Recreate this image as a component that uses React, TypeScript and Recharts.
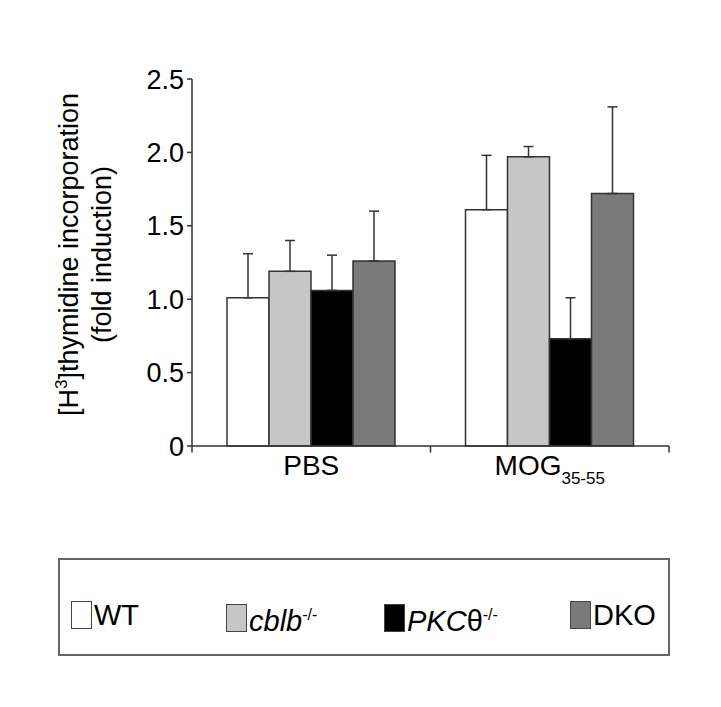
import { BarChart, Bar, XAxis, YAxis, ErrorBar, Legend, ReferenceLine } from "recharts";

const groups = ["PBS", "MOG"];
const wt = [1.01, 1.61];
const wtErr = [0.3, 0.37];
const cblb = [1.19, 1.97];
const cblbErr = [0.21, 0.07];
const pkc = [1.06, 0.73];
const pkcErr = [0.24, 0.28];
const dko = [1.26, 1.72];
const dkoErr = [0.34, 0.59];
const yTicks = [0, 0.5, 1, 1.5, 2, 2.5];

const series = [
  { key: "wt", name: "WT", sup: "", italic: false, color: "#ffffff", values: wt, errs: wtErr },
  { key: "cblb", name: "cblb", sup: "-/-", italic: true, color: "#c6c6c6", values: cblb, errs: cblbErr },
  { key: "pkc", name: "PKC", sup: "-/-", italic: true, color: "#000000", values: pkc, errs: pkcErr },
  { key: "dko", name: "DKO", sup: "", italic: false, color: "#7a7a7a", values: dko, errs: dkoErr },
];

const data = groups.map((g, i) => {
  const row: any = { group: g };
  series.forEach((s) => {
    row[s.key] = s.values[i];
    row[s.key + "Err"] = [0, s.errs[i]];
  });
  return row;
});

const font = "'Liberation Sans', Arial, sans-serif";

const XTick = (props: any) => {
  const { x, y, payload } = props;
  if (payload.value === "MOG") {
    return (
      <text x={x} y={y + 21} textAnchor="middle" fontFamily={font} fontSize={28} fill="#000">
        MOG
        <tspan fontSize={17} dy={9}>35-55</tspan>
      </text>
    );
  }
  return (
    <text x={x} y={y + 21} textAnchor="middle" fontFamily={font} fontSize={28} fill="#000">
      {payload.value}
    </text>
  );
};

const YLabel = (props: any) => {
  const vb = props.viewBox;
  const cx = 78;
  const cy = vb.y + vb.height / 2 - 8;
  return (
    <text
      transform={`translate(${cx},${cy}) rotate(-90)`}
      textAnchor="middle"
      fontFamily={font}
      fontSize={27}
      fill="#000"
    >
      <tspan x={0} dy={0}>
        [H<tspan fontSize={17} dy={-11}>3</tspan>
        <tspan dy={11}>]thymidine incorporation</tspan>
      </tspan>
      <tspan x={0} dy={33}>(fold induction)</tspan>
    </text>
  );
};

const renderLegend = () => (
  <div
    style={{
      width: 612,
      height: 98,
      boxSizing: "border-box",
      border: "2px solid #666",
      position: "relative",
      fontFamily: font,
      fontSize: 29,
      background: "#fff",
    }}
  >
    {series.map((s, i) => (
      <div
        key={s.key}
        style={{
          position: "absolute",
          left: [11, 166, 324, 510][i],
          top: 40,
          display: "flex",
          alignItems: "center",
          lineHeight: "30px",
        }}
      >
        <span
          style={{
            display: "inline-block",
            width: 21,
            height: 28,
            boxSizing: "border-box",
            border: "1.5px solid #444",
            background: s.color,
            marginRight: 2,
          }}
        />
        <span style={{ fontStyle: s.italic ? "italic" : "normal" }}>
          {s.name}
          {s.key === "pkc" && <span style={{ fontStyle: "normal" }}>θ</span>}
          {s.sup && <sup style={{ fontSize: 16, verticalAlign: "11px", fontStyle: "normal" }}>{s.sup}</sup>}
        </span>
      </div>
    ))}
  </div>
);

export default function App() {
  return (
    <div style={{ position: "absolute", left: 0, top: 0, background: "#fff" }}>
      <BarChart
        width={721}
        height={707}
        data={data}
        margin={{ top: 79, right: 52, bottom: 123, left: 132 }}
        barCategoryGap={35}
        barGap={0}
      >
        <XAxis
          xAxisId="top"
          orientation="top"
          dataKey="group"
          height={0}
          tick={false}
          tickLine={false}
          axisLine={{ stroke: "#666", strokeWidth: 1.5 }}
        />
        <XAxis
          dataKey="group"
          height={40}
          tickLine={false}
          tick={<XTick />}
          axisLine={{ stroke: "#333", strokeWidth: 1.5 }}
        />
        <YAxis
          domain={[0, 2.5]}
          ticks={yTicks}
          width={60}
          interval={0}
          tickSize={5}
          tickMargin={3}
          tickFormatter={(v: number) => (v === 0 ? "0" : v.toFixed(1))}
          tick={{ fontFamily: font, fontSize: 27, fill: "#000" }}
          tickLine={{ stroke: "#333", strokeWidth: 1.5 }}
          axisLine={{ stroke: "#333", strokeWidth: 1.5 }}
          label={<YLabel />}
        />
        <YAxis
          yAxisId="right"
          orientation="right"
          domain={[0, 2.5]}
          width={0}
          tick={false}
          tickLine={false}
          axisLine={{ stroke: "#666", strokeWidth: 1.5 }}
        />
        <Legend
          content={renderLegend}
          wrapperStyle={{ left: 58, top: 558, width: 612, height: 98 }}
        />
        {[
          { g: "PBS", pos: "start" },
          { g: "MOG", pos: "start" },
          { g: "MOG", pos: "end" },
        ].map((t, i) => (
          <ReferenceLine
            key={i}
            segment={[
              { x: t.g, y: 0 },
              { x: t.g, y: -0.045 },
            ]}
            position={t.pos as any}
            ifOverflow="visible"
            stroke="#333"
            strokeWidth={1.5}
          />
        ))}
        {series.map((s) => (
          <Bar
            key={s.key}
            dataKey={s.key}
            name={s.name}
            fill={s.color}
            stroke="#333"
            strokeWidth={1.5}
            isAnimationActive={false}
          >
            <ErrorBar
              dataKey={s.key + "Err"}
              width={5}
              stroke="#333"
              strokeWidth={1.5}
              direction="y"
            />
          </Bar>
        ))}
      </BarChart>
    </div>
  );
}
